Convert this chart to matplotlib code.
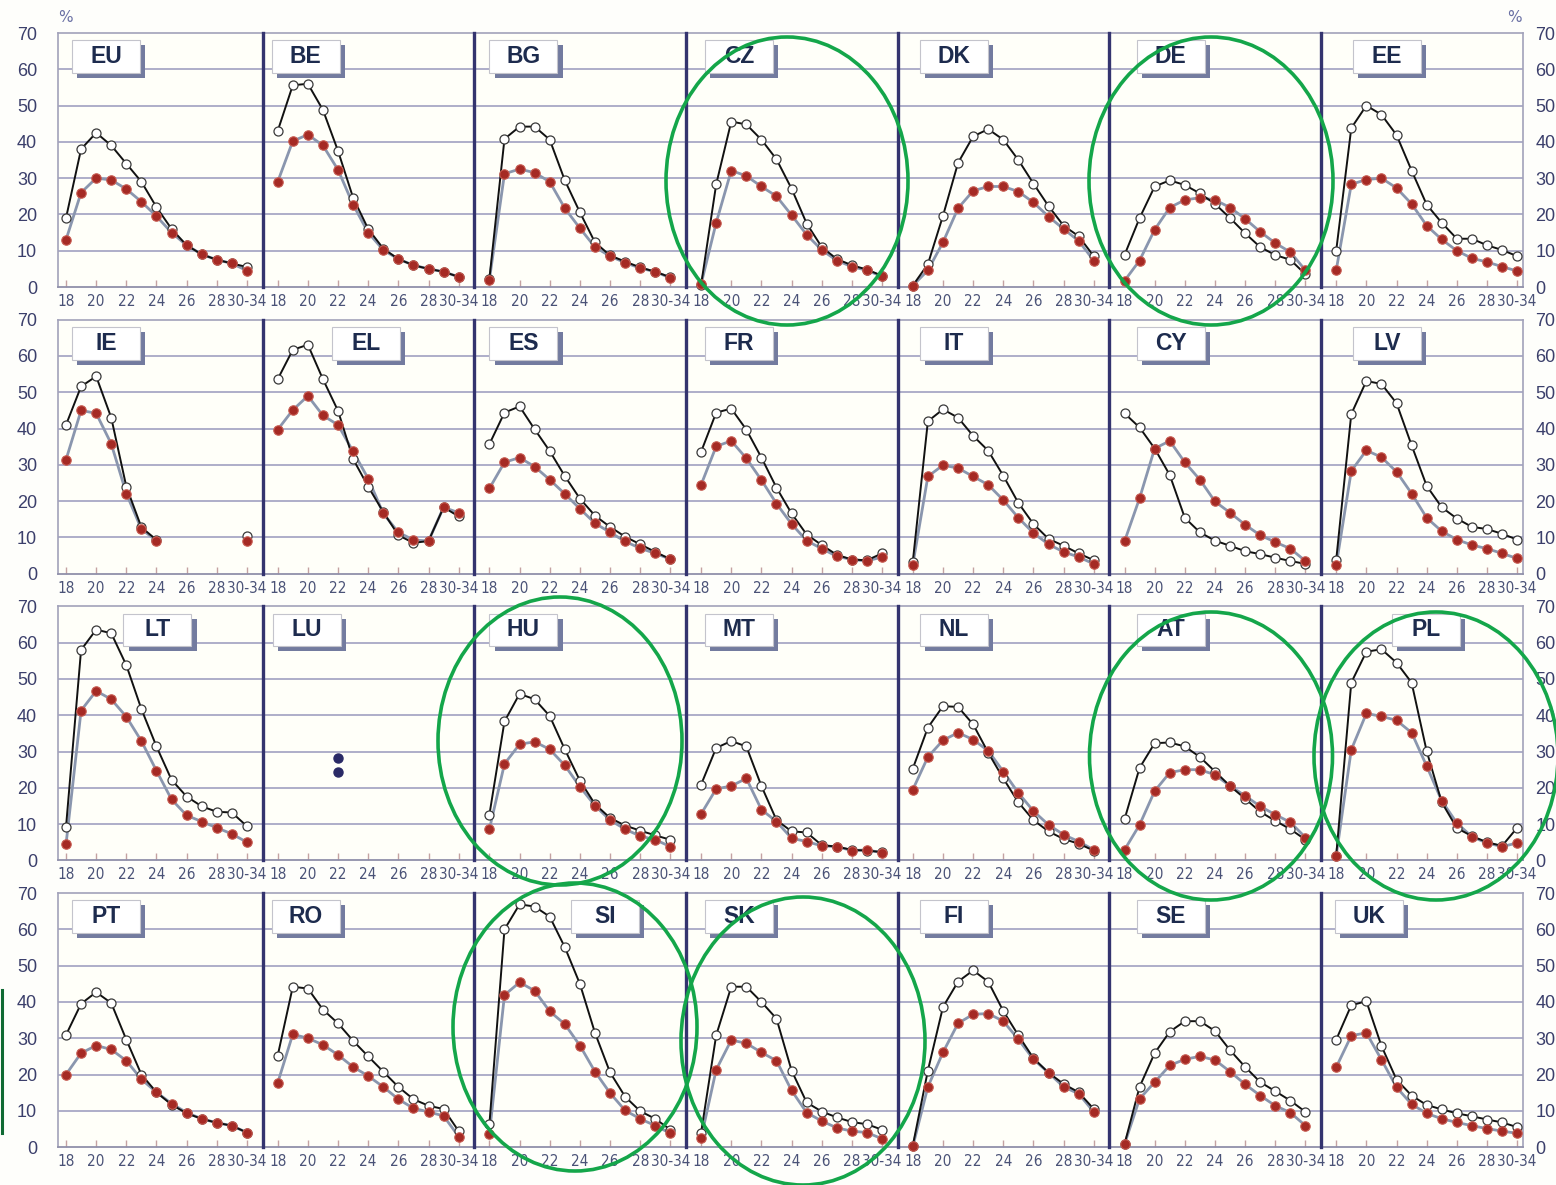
import numpy as np
import matplotlib.pyplot as plt
from matplotlib.patches import Rectangle, Ellipse
from matplotlib.lines import Line2D

nan = np.nan

# age groups on the x axis (index positions 0..12)
age_labels = ["18", "19", "20", "21", "22", "23", "24", "25", "26", "27", "28", "29", "30-34"]
tick_pos = [0, 2, 4, 6, 8, 10, 12]

countries = ["EU", "BE", "BG", "CZ", "DK", "DE", "EE",
             "IE", "EL", "ES", "FR", "IT", "CY", "LV",
             "LT", "LU", "HU", "MT", "NL", "AT", "PL",
             "PT", "RO", "SI", "SK", "FI", "SE", "UK"]

# hollow-marker series (black line) and filled-marker series (grey line), in %
eu_white = [19, 38, 42.5, 39, 34, 29, 22, 16, 11.5, 9, 7.5, 6.5, 5.5]
eu_red = [13, 26, 30, 29.5, 27, 23.5, 19.5, 15, 11.5, 9, 7.5, 6.5, 4.5]
be_white = [43, 55.6, 56, 48.8, 37.5, 24.6, 16, 10.6, 7.7, 6, 5, 4.2, 2.8]
be_red = [29, 40.2, 42, 39, 32.3, 22.7, 15, 10.2, 7.7, 6, 5, 4.2, 2.8]
bg_white = [2.3, 40.8, 44.2, 44.2, 40.6, 29.4, 20.6, 12.3, 8.7, 7, 5.4, 4.2, 2.7]
bg_red = [2, 31.2, 32.5, 31.5, 29, 21.7, 16.2, 11, 8.5, 6.7, 5.2, 4.2, 2.5]
cz_white = [0.6, 28.3, 45.6, 44.8, 40.6, 35.2, 27.1, 17.5, 11, 7.7, 6, 4.8, 3.1]
cz_red = [0.8, 17.7, 32.1, 30.6, 27.7, 25, 19.8, 14.4, 10.2, 7.3, 5.6, 4.6, 2.9]
dk_white = [0.4, 6.3, 19.6, 34.2, 41.5, 43.5, 40.6, 35, 28.5, 22.3, 16.9, 14, 8.5]
dk_red = [0.4, 4.6, 12.3, 21.7, 26.5, 27.7, 27.7, 26.3, 23.3, 19.4, 16, 12.7, 7.3]
de_white = [8.8, 19, 27.7, 29.4, 28.1, 25.8, 22.9, 19, 14.8, 11, 8.8, 7.5, 3.5]
de_red = [1.7, 7.3, 15.8, 21.9, 24, 24.6, 24, 21.9, 18.8, 15.2, 12.1, 9.6, 4.6]
ee_white = [10, 43.8, 50, 47.5, 41.9, 32.1, 22.7, 17.7, 13.3, 13.3, 11.5, 10.2, 8.5]
ee_red = [4.6, 28.3, 29.6, 30, 27.3, 22.9, 16.9, 13.1, 10, 7.9, 6.9, 5.6, 4.4]

ie_white = [41, 51.6, 54.4, 43, 24, 12.8, 9.3, nan, nan, nan, nan, nan, 10.5]
ie_red = [31.4, 45, 44.2, 35.8, 22.1, 12.3, 9.1, nan, nan, nan, nan, nan, 9]
el_white = [53.6, 61.7, 63.1, 53.6, 44.9, 31.6, 24, 17, 10.6, 8.5, 9, 18.3, 15.8]
el_red = [39.7, 45.1, 49, 43.6, 41, 33.7, 26.2, 16.6, 11.4, 9.3, 9, 18.3, 16.8]
es_white = [35.7, 44.4, 46.1, 39.8, 33.8, 26.9, 20.7, 16, 12.9, 10.2, 8.1, 6, 4]
es_red = [23.5, 30.7, 32, 29.5, 25.9, 22, 17.9, 13.9, 11.4, 8.9, 7, 5.6, 4]
fr_white = [33.6, 44.4, 45.5, 39.7, 32, 23.7, 16.6, 10.8, 7.9, 5.2, 3.9, 3.7, 5.6]
fr_red = [24.5, 35.1, 36.6, 31.8, 25.8, 19.3, 13.7, 9.1, 6.9, 4.8, 3.9, 3.5, 4.6]
it_white = [3.3, 42, 45.3, 43, 38, 33.9, 27, 19.5, 13.7, 9.6, 7.7, 5.6, 3.7]
it_red = [2.5, 26.8, 29.9, 29.1, 26.8, 24.5, 20.3, 15.4, 11.2, 8.1, 6, 4.6, 2.7]
cy_white = [44.2, 40.3, 34.5, 27.2, 15.4, 11.4, 9.1, 7.7, 6.2, 5.4, 4.4, 3.5, 2.7]
cy_red = [8.9, 20.8, 34.5, 36.6, 30.7, 25.9, 19.9, 16.8, 13.5, 10.6, 8.7, 6.9, 3.5]
lv_white = [3.8, 44, 53.1, 52.3, 47, 35.4, 24.2, 18.3, 15.2, 12.9, 12.3, 11, 9.4]
lv_red = [2.3, 28.3, 34, 32.1, 28.1, 22.1, 15.4, 11.7, 9.4, 7.9, 6.9, 5.6, 4.2]

lt_white = [9.2, 58, 63.6, 62.6, 53.8, 41.7, 31.4, 22.2, 17.6, 14.9, 13.4, 13.2, 9.4]
lt_red = [4.4, 41.3, 46.7, 44.4, 39.6, 32.9, 24.7, 16.8, 12.4, 10.7, 9, 7.3, 5]
lu_white = [nan] * 13
lu_red = [nan] * 13
hu_white = [12.6, 38.3, 45.9, 44.4, 39.8, 30.6, 22, 15.5, 11.7, 9.6, 8.2, 6.9, 5.7]
hu_red = [8.6, 26.6, 32, 32.7, 30.6, 26.2, 20.3, 15.1, 11.1, 8.6, 6.7, 5.7, 3.8]
mt_white = [20.9, 31, 32.9, 31.4, 20.5, 11.1, 8, 7.7, 4.2, 3.8, 2.9, 2.7, 2.3]
mt_red = [12.8, 19.7, 20.5, 22.6, 14, 10.7, 6.1, 5.2, 4, 3.8, 2.7, 2.9, 2.1]
nl_white = [25.3, 36.6, 42.5, 42.3, 37.5, 29.7, 22.6, 16, 11.1, 8, 5.9, 4.6, 2.7]
nl_red = [19.5, 28.5, 33.1, 35.2, 33.3, 30.2, 24.5, 18.6, 13.6, 9.8, 7.1, 5.2, 2.9]
at_white = [11.3, 25.5, 32.3, 32.5, 31.4, 28.5, 24.5, 20.5, 17, 13.4, 10.9, 8.6, 5.7]
at_red = [2.9, 9.8, 19.1, 24.2, 25, 25, 23.6, 20.5, 17.8, 14.9, 12.6, 10.5, 6.3]
pl_white = [1.3, 49, 57.5, 58.2, 54.5, 49, 30.1, 16, 8.9, 6.7, 5, 4, 9]
pl_red = [1.3, 30.5, 40.5, 39.7, 38.6, 35.2, 26, 16.4, 10.3, 6.5, 4.8, 3.8, 4.8]

pt_white = [30.9, 39.5, 42.7, 39.7, 29.6, 20, 15.1, 11.7, 9.3, 7.8, 6.7, 5.9, 4]
pt_red = [20, 25.9, 28, 26.9, 23.8, 18.7, 15.1, 12, 9.5, 7.8, 6.7, 5.9, 4]
ro_white = [25.2, 44.2, 43.7, 37.9, 34.1, 29.3, 25, 20.8, 16.6, 13.2, 11.4, 10.5, 4.4]
ro_red = [17.7, 31.1, 30, 28.2, 25.4, 22.1, 19.6, 16.6, 13.2, 10.7, 9.7, 8.6, 2.9]
si_white = [6.3, 60, 66.9, 66.3, 63.5, 55.1, 45, 31.5, 20.6, 13.9, 9.9, 7.8, 4.8]
si_red = [3.6, 41.9, 45.4, 43.1, 37.4, 33.9, 28, 20.8, 14.9, 10.1, 7.8, 5.9, 3.8]
sk_white = [4, 30.8, 44.2, 44.2, 40, 35.4, 21.1, 12.3, 9.8, 8.2, 6.9, 6.3, 4.8]
sk_red = [2.5, 21.3, 29.5, 28.6, 26.1, 23.8, 15.6, 9.5, 7.2, 5.3, 4.4, 4, 2.3]
fi_white = [0.4, 21.1, 38.6, 45.6, 48.7, 45.6, 37.5, 30.8, 24.5, 20.5, 17.4, 15.1, 10.5]
fi_red = [0.2, 16.6, 26.1, 34.1, 36.6, 36.8, 34.7, 29.7, 24.2, 20.5, 16.6, 14.7, 9.7]
se_white = [0.8, 16.6, 25.9, 31.8, 34.7, 34.7, 32, 26.7, 22.1, 17.9, 15.4, 12.8, 9.7]
se_red = [0.8, 13.3, 17.9, 22.5, 24.2, 25, 24, 20.8, 17.3, 14.2, 11.4, 9.5, 5.9]
uk_white = [29.6, 39.1, 40.2, 27.9, 18.6, 14.2, 11.6, 10.4, 9.3, 8.5, 7.6, 6.8, 5.5]
uk_red = [22, 30.7, 31.5, 24.1, 16.5, 11.8, 9.3, 7.8, 6.8, 5.9, 5.1, 4.4, 3.8]

# LU has no data: drawn as a ":" flag
lu_flag_x = 4
lu_flag_y = [28.2, 24.4]

series = {
    "EU": (eu_white, eu_red), "BE": (be_white, be_red), "BG": (bg_white, bg_red),
    "CZ": (cz_white, cz_red), "DK": (dk_white, dk_red), "DE": (de_white, de_red),
    "EE": (ee_white, ee_red), "IE": (ie_white, ie_red), "EL": (el_white, el_red),
    "ES": (es_white, es_red), "FR": (fr_white, fr_red), "IT": (it_white, it_red),
    "CY": (cy_white, cy_red), "LV": (lv_white, lv_red), "LT": (lt_white, lt_red),
    "LU": (lu_white, lu_red), "HU": (hu_white, hu_red), "MT": (mt_white, mt_red),
    "NL": (nl_white, nl_red), "AT": (at_white, at_red), "PL": (pl_white, pl_red),
    "PT": (pt_white, pt_red), "RO": (ro_white, ro_red), "SI": (si_white, si_red),
    "SK": (sk_white, sk_red), "FI": (fi_white, fi_red), "SE": (se_white, se_red),
    "UK": (uk_white, uk_red),
}

# left edge of each country label box, in x-axis units
label_x = {
    "EU": 0.4, "BE": -0.4, "BG": 0.0, "CZ": 0.27, "DK": 0.46, "DE": 0.8, "EE": 1.1,
    "IE": 0.4, "EL": 3.6, "ES": 0.0, "FR": 0.27, "IT": 0.46, "CY": 0.8, "LV": 1.1,
    "LT": 3.8, "LU": -0.3, "HU": 0.0, "MT": 0.27, "NL": 0.46, "AT": 0.8, "PL": 3.7,
    "PT": 0.4, "RO": -0.4, "SI": 5.4, "SK": 0.27, "FI": 0.46, "SE": 0.8, "UK": -0.07,
}

# green highlight rings, pixel centre x, centre y, width, height
rings = [(787, 181, 242, 288), (1211, 181, 244, 288), (560, 741, 244, 288),
         (1211, 756, 243, 288), (1436, 756, 244, 288), (575, 1027, 244, 288),
         (803, 1041, 244, 288)]

W, H = 1556, 1185
STEP = 15.08
COL_PITCH = 211.7
X0 = 66
ROW_TOP = 33
ROW_PITCH = 286.7
ROW_H = 254

bg = "#fffff9"
grid_c = "#9898bc"
frame_c = "#a2a2ba"
sep_c = "#34346f"
tick_c = "#4a5277"
navy = "#1d2b4e"
narrow = ["Liberation Sans Narrow", "DejaVu Sans"]

fig = plt.figure(figsize=(W / 100, H / 100), dpi=100, facecolor="#fefefb")

for i, code in enumerate(countries):
    r, k = divmod(i, 7)
    xl = -0.53 if k == 0 else -1.0
    xr = 12.39 if k == 6 else 13.0
    left_px = X0 + k * COL_PITCH + xl * STEP
    width_px = (xr - xl) * STEP
    top_px = ROW_TOP + r * ROW_PITCH
    ax = fig.add_axes([left_px / W, 1 - (top_px + ROW_H) / H, width_px / W, ROW_H / H])
    ax.set_xlim(xl, xr)
    ax.set_ylim(0, 70)
    ax.set_facecolor(bg)

    for gy in range(10, 70, 10):
        ax.axhline(gy, color=grid_c, lw=1.1, zorder=1)

    ax.spines["top"].set_color(frame_c)
    ax.spines["top"].set_linewidth(1.2)
    ax.spines["bottom"].set_color("#9090aa")
    ax.spines["bottom"].set_linewidth(1.3)
    if k == 0:
        ax.spines["left"].set_color(frame_c)
        ax.spines["left"].set_linewidth(1.2)
    else:
        ax.spines["left"].set_color(sep_c)
        ax.spines["left"].set_linewidth(2.4)
        ax.spines["left"].set_zorder(6)
    if k == 6:
        ax.spines["right"].set_color(frame_c)
        ax.spines["right"].set_linewidth(1.2)
    else:
        ax.spines["right"].set_visible(False)

    ax.set_xticks(tick_pos)
    ax.set_xticklabels([age_labels[t] for t in tick_pos], family=narrow,
                       fontsize=11, fontstretch="condensed", color=tick_c)
    ax.tick_params(axis="x", direction="in", length=5, width=1.0,
                   color="#c4a2a2", pad=5)

    ax.set_yticks(range(0, 80, 10))
    ax.tick_params(axis="y", length=0, labelleft=(k == 0), labelright=(k == 6),
                   labelsize=13, labelcolor="#3b3f6b")
    if k == 0:
        ax.tick_params(axis="y", pad=15)
    if k == 6:
        ax.tick_params(axis="y", pad=9)
    for lab in ax.get_yticklabels():
        lab.set_family(["Liberation Sans", "DejaVu Sans"])

    # country label box with drop shadow
    bx = label_x[code]
    bw = 68 / STEP
    ax.add_patch(Rectangle((bx + 0.35, 57.6), bw, 9.0, facecolor="#737b9f",
                           edgecolor="none", zorder=4))
    ax.add_patch(Rectangle((bx, 59.0), bw, 9.0, facecolor="white",
                           edgecolor="#c4c4cc", lw=0.8, zorder=5))
    ax.text(bx + bw / 2, 63.5, code, ha="center", va="center", fontsize=16.5,
            fontweight="bold", color=navy, family=["Liberation Sans", "DejaVu Sans"],
            zorder=6)

    white_vals, red_vals = series[code]
    x = np.arange(len(age_labels))
    ax.plot(x, red_vals, color="#8a96ae", lw=2.0, zorder=7, clip_on=False)
    ax.plot(x, white_vals, color="#111111", lw=1.4, zorder=8, clip_on=False)
    ax.plot(x, white_vals, ls="none", marker="o", ms=6.5, mfc="white",
            mec="#3a3a3a", mew=0.9, zorder=9, clip_on=False)
    ax.plot(x, red_vals, ls="none", marker="o", ms=6.8, mfc="#a52a24",
            mec="#c65a50", mew=0.8, zorder=10, clip_on=False)

    if code == "LU":
        ax.plot([lu_flag_x] * len(lu_flag_y), lu_flag_y, ls="none", marker="o",
                ms=6.5, color="#2a2a66", zorder=10)

fig.text(65 / W, 1 - 18 / H, "%", ha="center", va="center", fontsize=11,
         color="#6a70a4", family=narrow)
fig.text(1514 / W, 1 - 18 / H, "%", ha="center", va="center", fontsize=11,
         color="#6a70a4", family=narrow)

for cx, cy, rw, rh in rings:
    fig.patches.append(Ellipse((cx / W, 1 - cy / H), rw / W, rh / H,
                               transform=fig.transFigure, fill=False,
                               edgecolor="#14a64a", lw=2.6, zorder=20))
fig.lines.append(Line2D([2 / W, 2 / W], [1 - 990 / H, 1 - 1133 / H],
                        transform=fig.transFigure, color="#0f6a33", lw=2.2))

fig.savefig("out.png", dpi=100, facecolor=fig.get_facecolor())
